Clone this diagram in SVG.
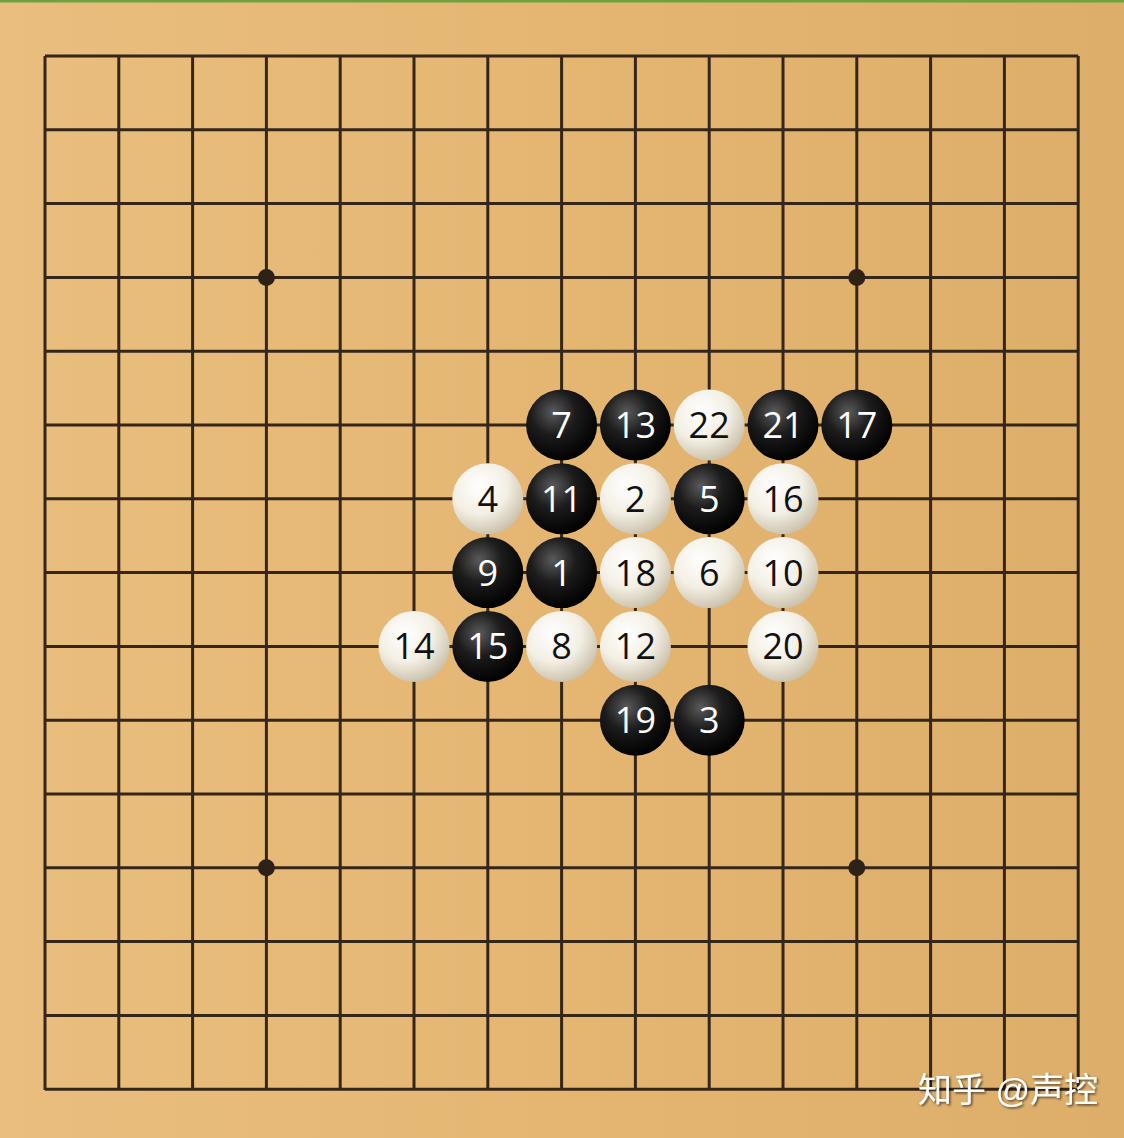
<svg xmlns="http://www.w3.org/2000/svg" width="1124" height="1138" viewBox="0 0 1124 1138">
<defs>
<linearGradient id="wood" x1="0" y1="0" x2="1" y2="0">
<stop offset="0" stop-color="#e9be7e"/>
<stop offset="0.5" stop-color="#e5b672"/>
<stop offset="1" stop-color="#ddae6a"/>
</linearGradient>
<radialGradient id="gb" cx="0.38" cy="0.32" r="0.7">
<stop offset="0" stop-color="#5a5a5a"/>
<stop offset="0.45" stop-color="#1c1c1c"/>
<stop offset="1" stop-color="#000"/>
</radialGradient>
<radialGradient id="gw" cx="0.38" cy="0.32" r="0.72">
<stop offset="0" stop-color="#ffffff"/>
<stop offset="0.55" stop-color="#f3efe4"/>
<stop offset="1" stop-color="#c9bfa8"/>
</radialGradient>
<filter id="sh" x="-10%" y="-10%" width="130%" height="130%">
<feDropShadow dx="1.5" dy="1.5" stdDeviation="1" flood-color="#000" flood-opacity="0.6"/>
</filter>
<style>
.grid line{stroke:#35261a;stroke-width:3}
.star{fill:#2e2116}
.b{fill:url(#gb)}
.w{fill:url(#gw)}
.t{font-family:"Open Sans","Noto Sans","DejaVu Sans",sans-serif;font-size:36px;text-anchor:middle}
.tb{fill:#ffffff}
.tw{fill:#111111}
.wm{font-family:"Liberation Sans","Noto Sans CJK SC",sans-serif;font-size:34px;fill:#ffffff}
</style>
</defs>
<rect x="0" y="0" width="1124" height="1138" fill="url(#wood)"/>
<rect x="0" y="0" width="1124" height="2.5" fill="#6da33f"/>
<g id="board" class="grid">
<line x1="45" y1="56" x2="45" y2="1090"/>
<line x1="118.8" y1="56" x2="118.8" y2="1090"/>
<line x1="192.6" y1="56" x2="192.6" y2="1090"/>
<line x1="266.4" y1="56" x2="266.4" y2="1090"/>
<line x1="340.2" y1="56" x2="340.2" y2="1090"/>
<line x1="414" y1="56" x2="414" y2="1090"/>
<line x1="487.8" y1="56" x2="487.8" y2="1090"/>
<line x1="561.6" y1="56" x2="561.6" y2="1090"/>
<line x1="635.4" y1="56" x2="635.4" y2="1090"/>
<line x1="709.2" y1="56" x2="709.2" y2="1090"/>
<line x1="783" y1="56" x2="783" y2="1090"/>
<line x1="856.8" y1="56" x2="856.8" y2="1090"/>
<line x1="930.6" y1="56" x2="930.6" y2="1090"/>
<line x1="1004.4" y1="56" x2="1004.4" y2="1090"/>
<line x1="1078.2" y1="56" x2="1078.2" y2="1090"/>
<line x1="45" y1="56" x2="1078.2" y2="56"/>
<line x1="45" y1="129.8" x2="1078.2" y2="129.8"/>
<line x1="45" y1="203.6" x2="1078.2" y2="203.6"/>
<line x1="45" y1="277.4" x2="1078.2" y2="277.4"/>
<line x1="45" y1="351.2" x2="1078.2" y2="351.2"/>
<line x1="45" y1="425" x2="1078.2" y2="425"/>
<line x1="45" y1="498.8" x2="1078.2" y2="498.8"/>
<line x1="45" y1="572.6" x2="1078.2" y2="572.6"/>
<line x1="45" y1="646.4" x2="1078.2" y2="646.4"/>
<line x1="45" y1="720.2" x2="1078.2" y2="720.2"/>
<line x1="45" y1="794" x2="1078.2" y2="794"/>
<line x1="45" y1="867.8" x2="1078.2" y2="867.8"/>
<line x1="45" y1="941.6" x2="1078.2" y2="941.6"/>
<line x1="45" y1="1015.4" x2="1078.2" y2="1015.4"/>
<line x1="45" y1="1089.2" x2="1078.2" y2="1089.2"/>
</g>
<g id="stars">
<circle class="star" cx="266.4" cy="277.4" r="8.5"/>
<circle class="star" cx="856.8" cy="277.4" r="8.5"/>
<circle class="star" cx="266.4" cy="867.8" r="8.5"/>
<circle class="star" cx="856.8" cy="867.8" r="8.5"/>
</g>
<g id="connectors"></g>
<g id="s1"><circle class="b" cx="561.6" cy="572.6" r="35.5"/><text class="t tb" x="561.6" y="585.6">1</text></g>
<g id="s2"><circle class="w" cx="635.4" cy="498.8" r="35.5"/><text class="t tw" x="635.4" y="511.8">2</text></g>
<g id="s3"><circle class="b" cx="709.2" cy="720.2" r="35.5"/><text class="t tb" x="709.2" y="733.2">3</text></g>
<g id="s4"><circle class="w" cx="487.8" cy="498.8" r="35.5"/><text class="t tw" x="487.8" y="511.8">4</text></g>
<g id="s5"><circle class="b" cx="709.2" cy="498.8" r="35.5"/><text class="t tb" x="709.2" y="511.8">5</text></g>
<g id="s6"><circle class="w" cx="709.2" cy="572.6" r="35.5"/><text class="t tw" x="709.2" y="585.6">6</text></g>
<g id="s7"><circle class="b" cx="561.6" cy="425" r="35.5"/><text class="t tb" x="561.6" y="438">7</text></g>
<g id="s8"><circle class="w" cx="561.6" cy="646.4" r="35.5"/><text class="t tw" x="561.6" y="659.4">8</text></g>
<g id="s9"><circle class="b" cx="487.8" cy="572.6" r="35.5"/><text class="t tb" x="487.8" y="585.6">9</text></g>
<g id="s10"><circle class="w" cx="783" cy="572.6" r="35.5"/><text class="t tw" x="783" y="585.6">10</text></g>
<g id="s11"><circle class="b" cx="561.6" cy="498.8" r="35.5"/><text class="t tb" x="561.6" y="511.8">11</text></g>
<g id="s12"><circle class="w" cx="635.4" cy="646.4" r="35.5"/><text class="t tw" x="635.4" y="659.4">12</text></g>
<g id="s13"><circle class="b" cx="635.4" cy="425" r="35.5"/><text class="t tb" x="635.4" y="438">13</text></g>
<g id="s14"><circle class="w" cx="414" cy="646.4" r="35.5"/><text class="t tw" x="414" y="659.4">14</text></g>
<g id="s15"><circle class="b" cx="487.8" cy="646.4" r="35.5"/><text class="t tb" x="487.8" y="659.4">15</text></g>
<g id="s16"><circle class="w" cx="783" cy="498.8" r="35.5"/><text class="t tw" x="783" y="511.8">16</text></g>
<g id="s17"><circle class="b" cx="856.8" cy="425" r="35.5"/><text class="t tb" x="856.8" y="438">17</text></g>
<g id="s18"><circle class="w" cx="635.4" cy="572.6" r="35.5"/><text class="t tw" x="635.4" y="585.6">18</text></g>
<g id="s19"><circle class="b" cx="635.4" cy="720.2" r="35.5"/><text class="t tb" x="635.4" y="733.2">19</text></g>
<g id="s20"><circle class="w" cx="783" cy="646.4" r="35.5"/><text class="t tw" x="783" y="659.4">20</text></g>
<g id="s21"><circle class="b" cx="783" cy="425" r="35.5"/><text class="t tb" x="783" y="438">21</text></g>
<g id="s22"><circle class="w" cx="709.2" cy="425" r="35.5"/><text class="t tw" x="709.2" y="438">22</text></g>
<g id="watermark" filter="url(#sh)">
<text class="wm" x="918" y="1102">知乎 @声控</text>
</g>
</svg>
